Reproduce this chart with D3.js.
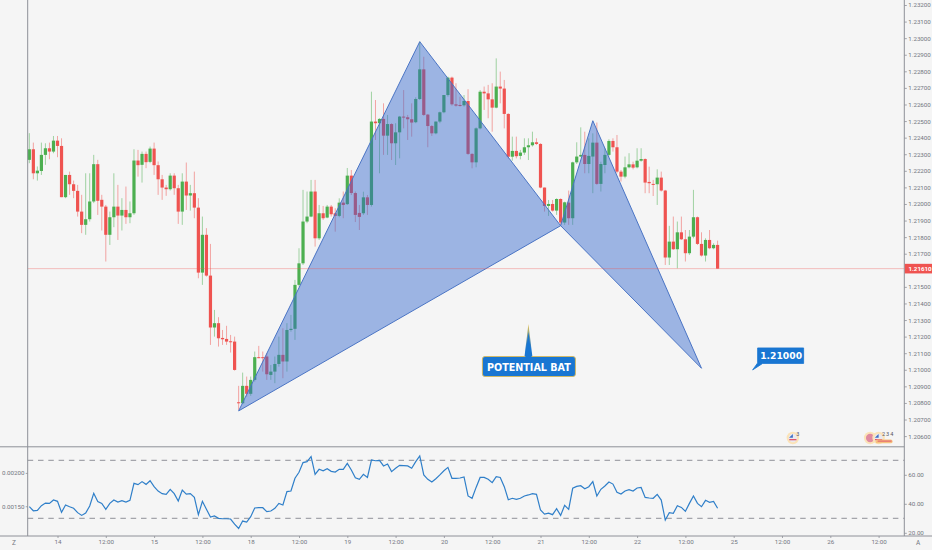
<!DOCTYPE html>
<html><head><meta charset="utf-8">
<script src="https://cdn.jsdelivr.net/npm/d3@7/dist/d3.min.js"></script>
<style>html,body{margin:0;padding:0;background:#f5f5f5;overflow:hidden}svg{display:block}text{font-family:Roboto,sans-serif}</style>
</head><body><svg id="c" width="932" height="550"></svg>
<script>
const opens=[1.22266,1.22330,1.22185,1.22199,1.22296,1.22336,1.22316,1.22382,1.22350,1.22041,
1.22175,1.22119,1.22079,1.21954,1.21874,1.21908,1.22015,1.22240,1.22025,1.21984,
1.21814,1.21920,1.21984,1.21930,1.21964,1.21920,1.21944,1.22262,1.22236,1.22302,
1.22254,1.22334,1.22234,1.22149,1.22099,1.22089,1.22171,1.22095,1.21954,1.22135,
1.22051,1.22065,1.21978,1.21586,1.21814,
1.21568,1.21255,1.21281,1.21192,1.21186,1.21172,1.21170,1.20804,1.20798,1.20903,
1.20855,1.20939,1.21076,1.21076,1.21080,1.20969,1.20989,1.21035,1.21090,1.21050,
1.21240,1.21247,1.21512,1.21642,1.21894,1.21924,1.22075,1.21793,1.21944,1.21918,
1.21984,1.21944,1.21928,1.22008,1.21999,1.22171,1.22066,1.21946,1.21944,1.22040,
1.21994,1.22497,1.22487,1.22513,1.22412,1.22482,1.22366,1.22432,1.22527,1.22523,
1.22511,1.22493,1.22633,1.22812,1.22539,1.22470,1.22426,1.22497,1.22553,1.22657,
1.22762,1.22601,1.22597,1.22595,1.22621,1.22302,1.22251,1.22456,1.22677,1.22667,
1.22631,1.22581,1.22708,1.22696,1.22543,1.22285,1.22320,1.22290,1.22310,1.22342,
1.22354,1.22372,1.22362,1.22099,1.21988,1.22000,1.21960,1.22030,1.21888,1.22008,
1.21914,1.22251,1.22286,1.22296,1.22241,1.22286,1.22370,1.22121,1.22235,1.22296,
1.22380,1.22342,1.22195,1.22165,1.22221,1.22239,1.22221,1.22261,1.22271,1.22133,
1.22121,1.22119,1.22159,1.22081,1.21677,1.21773,1.21727,1.21829,1.21787,1.21703,
1.21803,1.21920,1.21759,1.21689,1.21783,1.21733,1.21753];
const closes=[1.22330,1.22185,1.22201,1.22296,1.22336,1.22316,1.22382,1.22350,1.22041,1.22175,
1.22119,1.22079,1.21954,1.21874,1.21908,1.22015,1.22240,1.22019,1.21984,1.21814,
1.21920,1.21984,1.21930,1.21964,1.21920,1.21944,1.22262,1.22234,1.22302,1.22252,
1.22334,1.22234,1.22149,1.22099,1.22089,1.22171,1.22095,1.21954,1.22135,1.22051,
1.22065,1.21978,1.21586,1.21814,1.21568,
1.21255,1.21281,1.21190,1.21184,1.21170,1.21168,1.20999,1.20798,1.20903,1.20855,
1.20939,1.21076,1.21070,1.21070,1.20973,1.20989,1.21035,1.21090,1.21050,1.21240,
1.21247,1.21512,1.21642,1.21894,1.21924,1.22075,1.21793,1.21944,1.21914,1.21984,
1.21938,1.21928,1.22008,1.21994,1.22171,1.22066,1.21934,1.21922,1.22040,1.21994,
1.22497,1.22487,1.22513,1.22412,1.22482,1.22366,1.22432,1.22527,1.22521,1.22511,
1.22491,1.22633,1.22812,1.22537,1.22470,1.22426,1.22497,1.22553,1.22657,1.22762,
1.22601,1.22593,1.22591,1.22621,1.22302,1.22251,1.22456,1.22677,1.22667,1.22631,
1.22581,1.22708,1.22696,1.22543,1.22285,1.22320,1.22288,1.22310,1.22342,1.22354,
1.22372,1.22362,1.22099,1.21988,1.22000,1.21960,1.22030,1.21888,1.22010,1.21914,
1.22251,1.22286,1.22296,1.22241,1.22290,1.22370,1.22121,1.22241,1.22296,1.22380,
1.22342,1.22195,1.22165,1.22221,1.22239,1.22219,1.22261,1.22271,1.22129,1.22125,
1.22117,1.22159,1.22081,1.21677,1.21773,1.21727,1.21829,1.21787,1.21703,1.21803,
1.21920,1.21759,1.21689,1.21783,1.21733,1.21753,1.21610];
const highs=[1.22427,1.22370,1.22226,1.22370,1.22366,1.22370,1.22410,1.22410,1.22396,1.22175,
1.22195,1.22141,1.22115,1.22055,1.22185,1.22185,1.22296,1.22266,1.22055,1.21994,
1.21954,1.22185,1.22115,1.22035,1.22105,1.22015,1.22330,1.22326,1.22316,1.22316,
1.22346,1.22370,1.22256,1.22175,1.22115,1.22185,1.22185,1.22115,1.22185,1.22250,
1.22115,1.22195,1.22035,1.21924,1.21854,
1.21759,1.21361,1.21317,1.21240,1.21265,1.21210,1.21200,1.20903,1.20983,1.20959,
1.20959,1.21110,1.21144,1.21110,1.21100,1.21029,1.21080,1.21200,1.21250,1.21281,
1.21331,1.21542,1.21733,1.22085,1.22075,1.22145,1.22145,1.21994,1.21988,1.21994,
1.21994,1.21974,1.22034,1.22075,1.22217,1.22205,1.22075,1.21994,1.22074,1.22054,
1.22677,1.22627,1.22517,1.22607,1.22537,1.22487,1.22487,1.22531,1.22687,1.22537,
1.22607,1.22643,1.22979,1.22888,1.22543,1.22476,1.22497,1.22557,1.22657,1.22768,
1.22768,1.22728,1.22647,1.22657,1.22692,1.22306,1.22462,1.22687,1.22708,1.22718,
1.22728,1.22878,1.22798,1.22748,1.22547,1.22406,1.22406,1.22326,1.22396,1.22396,
1.22436,1.22396,1.22366,1.22099,1.22024,1.22024,1.22034,1.22034,1.22014,1.22081,
1.22255,1.22372,1.22462,1.22436,1.22396,1.22426,1.22491,1.22255,1.22336,1.22390,
1.22396,1.22416,1.22205,1.22286,1.22306,1.22255,1.22336,1.22336,1.22275,1.22225,
1.22145,1.22209,1.22195,1.22085,1.21868,1.21924,1.21894,1.21924,1.21843,1.21843,
1.22085,1.21924,1.21829,1.21793,1.21843,1.21763,1.21779];
const lows=[1.22246,1.22149,1.22141,1.22175,1.22236,1.22270,1.22306,1.22282,1.22041,1.22035,
1.22055,1.22035,1.21924,1.21824,1.21814,1.21894,1.22005,1.21934,1.21840,1.21653,
1.21753,1.21860,1.21783,1.21840,1.21880,1.21884,1.21934,1.22165,1.22129,1.22216,
1.22246,1.22175,1.22055,1.22025,1.22049,1.22081,1.22055,1.21880,1.21874,1.21964,
1.21960,1.21914,1.21552,1.21512,1.21562,
1.21150,1.21200,1.21140,1.21150,1.21150,1.21104,1.20995,1.20758,1.20794,1.20838,
1.20843,1.20929,1.21070,1.20989,1.20939,1.20939,1.20919,1.21019,1.20949,1.20989,
1.21230,1.21180,1.21502,1.21632,1.21884,1.21920,1.21743,1.21783,1.21904,1.21914,
1.21924,1.21833,1.21920,1.21914,1.21994,1.22054,1.21891,1.21843,1.21934,1.21934,
1.21984,1.22386,1.22185,1.22296,1.22296,1.22265,1.22235,1.22275,1.22456,1.22386,
1.22406,1.22487,1.22627,1.22531,1.22342,1.22410,1.22420,1.22487,1.22547,1.22647,
1.22593,1.22587,1.22587,1.22587,1.22296,1.22215,1.22221,1.22450,1.22567,1.22517,
1.22436,1.22577,1.22607,1.22456,1.22275,1.22261,1.22275,1.22269,1.22296,1.22265,
1.22346,1.22356,1.22095,1.21954,1.21928,1.21954,1.21934,1.21874,1.21874,1.21874,
1.21874,1.22241,1.22282,1.22185,1.22185,1.22065,1.22115,1.22075,1.22185,1.22286,
1.22316,1.22185,1.22135,1.22155,1.22215,1.22209,1.22215,1.22255,1.22065,1.22065,
1.22048,1.21994,1.22075,1.21632,1.21632,1.21723,1.21612,1.21783,1.21653,1.21693,
1.21793,1.21753,1.21683,1.21653,1.21727,1.21727,1.21610];
const rsi=[38.0,35.2,35.5,38.7,40.5,40.3,42.6,41.7,34.1,39.2,
38.0,36.9,33.9,32.0,33.6,38.5,47.2,41.5,40.3,36.2,
40.3,42.6,41.2,42.1,41.2,42.4,54.1,53.2,55.3,53.4,
55.9,51.8,48.8,47.0,46.5,50.0,47.0,41.9,49.5,46.7,
47.0,44.4,32.5,41.7,36.2,30.9,31.6,30.0,29.7,29.7,
29.5,26.0,23.0,28.1,27.4,31.1,37.1,37.3,37.3,34.6,
35.0,36.9,40.3,39.2,48.4,48.8,57.6,61.7,68.4,69.1,
72.5,60.3,63.8,62.8,64.2,62.4,61.9,63.8,63.8,67.9,
63.3,58.0,56.9,60.3,58.2,70.2,69.7,70.0,
66.1,67.4,62.2,64.5,66.5,66.3,66.1,64.5,69.1,73.0,
59.9,56.9,55.0,57.3,59.9,62.8,65.1,57.6,57.6,57.8,
58.5,45.4,43.8,51.3,58.2,58.2,56.9,54.6,58.7,58.2,
51.8,42.8,43.8,43.1,43.8,45.4,46.1,47.0,46.5,35.7,
32.9,33.6,32.5,36.6,32.0,38.9,36.2,50.7,52.0,52.5,
50.4,51.8,55.3,45.4,50.0,52.3,55.0,53.6,47.9,46.7,
48.8,49.7,48.8,50.9,51.3,44.4,44.0,43.8,46.5,42.6,
28.8,33.9,33.4,38.7,37.5,34.8,40.3,45.4,40.3,38.0,
42.4,41.0,41.7,36.9];
const priceTicks=[1.232,1.231,1.23,1.229,1.228,1.227,1.226,1.225,1.224,1.223,1.222,1.221,1.22,1.219,1.218,1.217,1.215,1.214,1.213,1.212,1.211,1.21,1.209,1.208,1.207,1.206];
const rsiTicks=[60,40,20];
const rsiBands=[70,30];
const timeBars=[7,19,31,43,55,67,79,91,103,115,127,139,151,163,175,187,199,211];
const timeLabels=["14","12:00","15","12:00","18","12:00","19","12:00","20","12:00","21","12:00","22","12:00","25","12:00","26","12:00"];
const patternBars=[[52,97,132],[132,140,167]];
const patternPrices=[[1.20752,1.22979,1.21869],[1.21869,1.22502,1.21009]];
const lastPrice=1.2161;
const leftTicks=[{rsi:61.3,label:"0.00200"},{rsi:38.3,label:"0.00150"}];
const calloutBat={bar:124,price:1.21276,text:"POTENTIAL BAT"};
const calloutTarget={bar:179.7,price:1.20999,text:"1.21000"};
const events=[{bar:189.7,labels:["3"],extra:false},{bar:208.9,labels:[],extra:false},{bar:211,labels:["2","3","4"],extra:true}];

const W=932,H=550,LEFT=27.7,RIGHT=904.3,PANE=446.8,BOTTOM=536;
const RED="#ef5350",GREEN="#4caf50",TXT="#73757f",LINE="#8e9098";
const x=d3.scaleLinear().domain([0,171]).range([29.33,717.6]);
const y=d3.scaleLinear().domain([1.232,1.206]).range([5,436.1]);
const yr=d3.scaleLinear().domain([70,30]).range([460.3,518.3]);
const svg=d3.select("#c");
svg.append("rect").attr("width",W).attr("height",H).attr("fill","#f5f5f5");

// candles
const bars=d3.range(opens.length);
const gc=svg.append("g");
gc.selectAll(".w").data(bars).join("line").attr("class","w")
 .attr("x1",i=>x(i)).attr("x2",i=>x(i)).attr("y1",i=>y(highs[i])).attr("y2",i=>y(lows[i]))
 .attr("stroke",i=>closes[i]>=opens[i]?GREEN:RED).attr("stroke-width",1).attr("stroke-opacity",0.5);
gc.selectAll(".b").data(bars).join("rect").attr("class","b")
 .attr("x",i=>x(i)-1.6).attr("width",3.2)
 .attr("y",i=>Math.min(y(opens[i]),y(closes[i])))
 .attr("height",i=>Math.max(1,Math.abs(y(opens[i])-y(closes[i]))))
 .attr("fill",i=>closes[i]>=opens[i]?GREEN:RED);

// harmonic pattern
patternBars.forEach((pb,j)=>{
 const pts=pb.map((b,i)=>[x(b),y(patternPrices[j][i])]);
 svg.append("path").attr("d",d3.line()(pts)+"Z").attr("fill","rgba(49,103,206,0.45)")
  .attr("stroke","#4a74c4").attr("stroke-width",1);
});

// last price line
svg.append("line").attr("x1",LEFT).attr("x2",RIGHT).attr("y1",y(lastPrice)).attr("y2",y(lastPrice))
 .attr("stroke","#ef5350").attr("stroke-opacity",0.35).attr("stroke-width",1);

// rsi pane
svg.selectAll(".band").data(rsiBands).join("line").attr("class","band")
 .attr("x1",LEFT).attr("x2",RIGHT).attr("y1",d=>yr(d)).attr("y2",d=>yr(d))
 .attr("stroke","#85878e").attr("stroke-width",0.9).attr("stroke-dasharray","5.5,4.8");
svg.append("path").attr("d",d3.line().x((d,i)=>x(i)).y(d=>yr(d))(rsi))
 .attr("fill","none").attr("stroke","#2f7fc9").attr("stroke-width",1.2);

// frame
[[0,PANE,RIGHT,PANE],[0,BOTTOM,W,BOTTOM],[LEFT,0,LEFT,BOTTOM],[RIGHT,0,RIGHT,BOTTOM]].forEach(l=>{
 svg.append("line").attr("x1",l[0]).attr("y1",l[1]).attr("x2",l[2]).attr("y2",l[3])
  .attr("stroke",LINE).attr("stroke-width",1);
});

function styleAxis(g){
 g.select(".domain").remove();
 g.selectAll("line").attr("stroke",LINE).attr("stroke-width",0.8);
 g.selectAll("text").attr("fill",TXT).style("font-size","6.2px").style("font-family","Roboto,sans-serif");
}
svg.append("g").attr("transform",`translate(${RIGHT},0)`)
 .call(d3.axisRight(y).tickValues(priceTicks).tickFormat(d3.format(".5f")).tickSize(2.5).tickPadding(1.5)).call(styleAxis);
svg.append("g").attr("transform",`translate(${RIGHT},0)`)
 .call(d3.axisRight(yr).tickValues(rsiTicks).tickFormat(d3.format(".2f")).tickSize(2.5).tickPadding(1.5)).call(styleAxis);
svg.append("g").attr("transform",`translate(0,${BOTTOM})`)
 .call(d3.axisBottom(x).tickValues(timeBars).tickFormat((d,i)=>timeLabels[i]).tickSize(2).tickPadding(2)).call(styleAxis);
svg.append("g").attr("transform",`translate(${LEFT},0)`)
 .call(d3.axisLeft(d3.scaleLinear().domain(yr.domain()).range(yr.range())).tickValues(leftTicks.map(d=>d.rsi))
  .tickFormat((d,i)=>leftTicks[i].label).tickSize(2).tickPadding(1.2)).call(styleAxis);
svg.append("text").attr("x",14).attr("y",545).attr("text-anchor","middle").attr("fill",TXT).style("font-size","6.5px").text("Z");
svg.append("text").attr("x",918).attr("y",545).attr("text-anchor","middle").attr("fill",TXT).style("font-size","6.5px").text("A");

// last price tag
svg.append("rect").attr("x",RIGHT+0.5).attr("y",y(lastPrice)-4.8).attr("width",W-RIGHT).attr("height",9.6).attr("fill",RED);
svg.append("text").attr("x",908.5).attr("y",y(lastPrice)+2.2).attr("fill","#fff").style("font-size","6.2px").style("font-weight",700)
 .text(d3.format(".5f")(lastPrice));

// callouts
const defs=svg.append("defs");
const grad=defs.append("linearGradient").attr("id","sp").attr("x1",0).attr("x2",0).attr("y1",0).attr("y2",1);
grad.append("stop").attr("offset","0").attr("stop-color","#e8c24a");
grad.append("stop").attr("offset","0.75").attr("stop-color","#1976d2");
const bx=x(calloutBat.bar), by=y(calloutBat.price);
svg.append("path").attr("d",`M${bx-4},${by+33} L${bx},${by} L${bx+4},${by+33}Z`).attr("fill","url(#sp)");
svg.append("rect").attr("x",bx-46).attr("y",by+32.5).attr("width",93).attr("height",20).attr("rx",2.5)
 .attr("fill","#1976d2").attr("stroke","#d9b95a").attr("stroke-width",0.9);
svg.append("path").attr("d",`M${bx-3.2},${by+33} L${bx},${by+8} L${bx+3.2},${by+33}Z`).attr("fill","#1976d2");
svg.append("text").attr("x",bx+0.5).attr("y",by+46.5).attr("text-anchor","middle").attr("fill","#fff")
 .style("font-family","'DejaVu Sans',sans-serif").style("font-weight",700).style("font-size","9.6px").text(calloutBat.text);
const tx=x(calloutTarget.bar), ty=y(calloutTarget.price);
svg.append("path").attr("d",`M${tx},${ty} L${tx+5},${ty-7} L${tx+5},${ty-22} L${tx+51},${ty-22} L${tx+51},${ty-6.5} L${tx+10},${ty-6.5}Z`)
 .attr("fill","#1976d2").attr("stroke","#1976d2").attr("stroke-width",0.8).attr("stroke-linejoin","round");
svg.append("text").attr("x",tx+28.5).attr("y",ty-10.5).attr("text-anchor","middle").attr("fill","#fff")
 .style("font-family","'DejaVu Sans',sans-serif").style("font-weight",600).style("font-size","9.2px").text(calloutTarget.text);

// event flags
const ey=438;
events.forEach(e=>{
 const ex=x(e.bar);
 const g=svg.append("g");
 g.append("circle").attr("cx",ex).attr("cy",ey).attr("r",6.2).attr("fill","#fbe3b8");
 g.append("circle").attr("cx",ex).attr("cy",ey).attr("r",4.2).attr("fill",e.labels.length?"#e9e9ef":"#e08aa0");
 if(e.labels.length){
  g.append("path").attr("d",`M${ex-3.8},${ey-0.2} L${ex},${ey-4} L${ex},${ey-0.2}Z`).attr("fill","#3f6fc4");
  g.append("rect").attr("x",ex-3.6).attr("y",ey+1).attr("width",7.2).attr("height",1.3).attr("fill","#e0566e");
 }
 if(e.extra){
  g.append("rect").attr("x",ex-3).attr("y",ey+1.5).attr("width",17).attr("height",3.8).attr("rx",1.9).attr("fill","#f6c27e");
  g.append("rect").attr("x",ex-1).attr("y",ey+2.6).attr("width",14).attr("height",1).attr("fill","#e0566e");
 }
 e.labels.forEach((t,i)=>g.append("text").attr("x",ex+3.4+i*4.1).attr("y",ey-1.8).attr("fill","#55575f").style("font-size","5.6px").text(t));
});
</script></body></html>
